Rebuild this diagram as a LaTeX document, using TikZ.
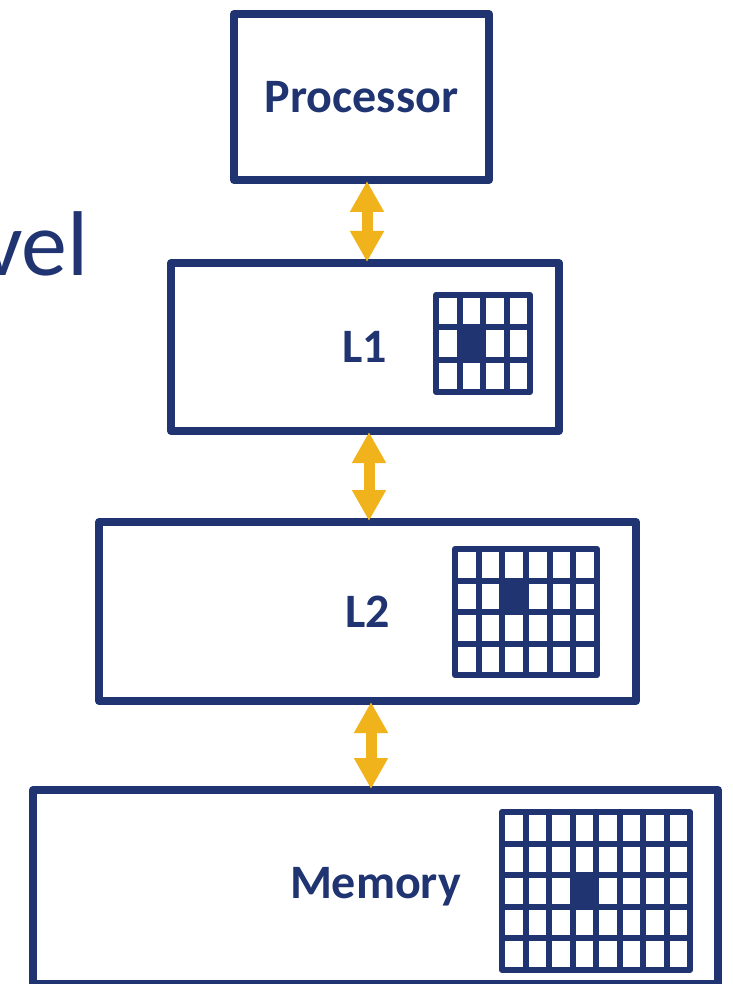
\documentclass[tikz,border=0pt]{standalone}
\usepackage{fontspec}
\setmainfont{Carlito}
\usetikzlibrary{arrows.meta,calc}
\definecolor{navy}{HTML}{1F3470}
\definecolor{gold}{HTML}{F1B31C}
\tikzset{
  box/.style={draw=navy, line width=8pt, line join=round, fill=white, text=navy,
    font=\fontsize{48}{52}\selectfont\bfseries, inner sep=0pt},
  arr/.style={gold, line width=11pt,
    {Triangle[width=32pt,length=31pt]}-{Triangle[width=32pt,length=31pt]},
    shorten <=-3pt, shorten >=-3pt},
  gridline/.style={navy, line width=6pt, line cap=rect},
  gridframe/.style={navy, line width=6pt, line join=round},
}
\newcommand\cachegrid[8]{%
  \pgfmathsetmacro\cw{(#3-#1)/#5}%
  \pgfmathsetmacro\rh{(#4-#2)/#6}%
  \fill[navy] ({#1+\cw*(#7-1)},{#2+\rh*(#8-1)}) rectangle ++(\cw,\rh);
  \foreach \i in {1,...,\numexpr#5-1\relax} \draw[gridline] ({#1+\i*\cw},#2) -- ({#1+\i*\cw},#4);
  \foreach \j in {1,...,\numexpr#6-1\relax} \draw[gridline] (#1,{#2+\j*\rh}) -- (#3,{#2+\j*\rh});
  \draw[gridframe] (#1,#2) rectangle (#3,#4);
}
\begin{document}
\begin{tikzpicture}[x=1pt,y=-1pt]
\useasboundingbox (0,0) rectangle (732,984);
% title fragment
\node[anchor=base west, inner sep=0pt, text=navy, font=\fontsize{92}{100}\selectfont] (title) at (-19,275) {vel};
% boxes
\node[box, minimum width=255pt, minimum height=166pt] (P) at (361.5,97) {Processor};
\node[box, minimum width=388pt, minimum height=168pt] (L1) at (365,347) {L1};
\node[box, minimum width=537pt, minimum height=179pt] (L2) at (367.5,611.5) {L2};
\node[box, minimum width=685pt, minimum height=194pt] (M) at (375.5,887) {Memory};
% arrow x positions
\coordinate (ax1) at (367,0);
\coordinate (ax2) at (369,0);
\coordinate (ax3) at (371,0);
\draw[arr] (P.south -| ax1) -- (L1.north -| ax1);
\draw[arr] (L1.south -| ax2) -- (L2.north -| ax2);
\draw[arr] (L2.south -| ax3) -- (M.north -| ax3);
% cache grids
\cachegrid{436}{295}{530}{392}{4}{3}{2}{2}
\cachegrid{455}{549}{597}{675}{6}{4}{3}{2}
\cachegrid{502}{812}{690}{970}{8}{5}{4}{3}
\end{tikzpicture}
\end{document}
